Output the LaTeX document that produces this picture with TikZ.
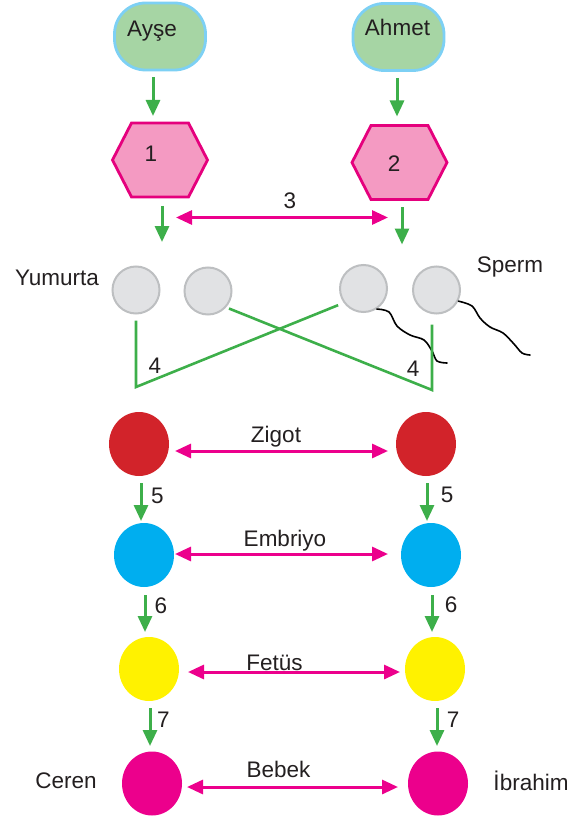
\documentclass[tikz,border=0pt]{standalone}
\usepackage{fontspec}
\setmainfont{Liberation Sans}
\usetikzlibrary{arrows.meta,calc,shapes.geometric}
\definecolor{boxgreen}{HTML}{A6D5A4}
\definecolor{boxblue}{HTML}{7DD0F4}
\definecolor{grn}{HTML}{3DAF4A}
\definecolor{mag}{HTML}{EC008C}
\definecolor{hexfill}{HTML}{F49AC2}
\definecolor{hexline}{HTML}{E5007D}
\definecolor{eggf}{HTML}{E1E2E4}
\definecolor{eggb}{HTML}{BDBFC1}
\definecolor{zred}{HTML}{D2232A}
\definecolor{zblue}{HTML}{00AEEF}
\definecolor{zyel}{HTML}{FFF200}
\definecolor{zpink}{HTML}{EC008C}
\definecolor{textc}{HTML}{231F20}
\begin{document}
\begin{tikzpicture}[x=1pt,y=-1pt,
  person/.style={draw=boxblue, fill=boxgreen, line width=2.8pt, rounded corners=31pt,
    minimum width=91pt, minimum height=67pt, inner sep=0pt},
  txt/.style={font=\fontsize{22.5}{27}\selectfont, text=textc, anchor=base, inner sep=0pt},
  hexbox/.style={rectangle, inner sep=0pt, outer sep=0pt, minimum width=95pt, minimum height=74pt},
  hexs/.style={draw=hexline, fill=hexfill, line width=2.8pt, line join=miter},
  egg/.style={circle, draw=eggb, fill=eggf, line width=2pt, minimum size=47pt, inner sep=0pt},
  cell/.style={ellipse, minimum width=60pt, minimum height=64pt, inner sep=0pt, outer sep=0pt},
  garrow/.style={draw=grn, line width=3pt, -{Triangle[length=16pt,width=14pt]}},
  marrow/.style={draw=mag, line width=3pt, {Triangle[length=16pt,width=14pt]}-{Triangle[length=16pt,width=14pt]}},
  gline/.style={draw=grn, line width=2.6pt},
  tail/.style={draw=black, line width=1.6pt, line cap=round}]
\useasboundingbox (0,0) rectangle (582,818);

% parents
\node[person] (ayse) at (160,36.5) {};
\node[person] (ahmet) at (398.5,37) {};
\node[txt] (ayseT) at (152,37) {Ayşe};
\node[txt] (ahmetT) at (397.5,36) {Ahmet};

% hexagons
\node[hexbox] (h1) at (160,160) {};
\node[hexbox] (h2) at (399.5,162.5) {};
\foreach \h in {h1,h2}{
  \draw[hexs] (\h.west) -- ([xshift=19pt]\h.north west) -- ([xshift=-19pt]\h.north east)
    -- (\h.east) -- ([xshift=-19pt]\h.south east) -- ([xshift=19pt]\h.south west) -- cycle;
}
\node[txt] (h1T) at (151,162) {1};
\node[txt] (h2T) at (394,172) {2};

\draw[garrow] ([xshift=-7pt,yshift=-6pt]ayse.south) -- ([xshift=-7pt,yshift=7pt]h1.north);
\draw[garrow] ([xshift=-1.5pt,yshift=-6pt]ahmet.south) -- ([xshift=-2.5pt,yshift=9pt]h2.north);
\draw[garrow] ([xshift=2pt,yshift=-9pt]h1.south) -- ++(0,36);
\draw[garrow] ([xshift=2.5pt,yshift=-8pt]h2.south) -- ++(0,37);

\coordinate (a3l) at (176,217.5);
\coordinate (a3r) at (388,217.5);
\draw[marrow] (a3l) -- (a3r);
\node[txt] (l3) at (290,208) {3};

% gametes
\node[egg] (e1) at (136,290) {};
\node[egg] (e2) at (208,291) {};
\node[egg] (s1) at (363.5,288.5) {};
\node[egg] (s2) at (436.5,290) {};
\node[txt] (yum) at (57,285) {Yumurta};
\node[txt] (sperm) at (510,272) {Sperm};

\draw[tail] plot[smooth, tension=0.55] coordinates {(s1.-57) (389,312) (397,326) (410,335) (424,340) (432,351) (437,361) (447,363)};
\draw[tail] plot[smooth, tension=0.55] coordinates {(s2.-27) (472,306) (480,318) (490,327) (503,333) (514,344) (522,353) (530,355)};

\coordinate (k1) at (136,387);
\coordinate (k2) at (432,390);
\draw[gline, shorten >=6pt] ([yshift=-6pt]e1.south) -- (k1) -- (s1.216);
\draw[gline, shorten <=3pt] (e2.-42) -- (k2) -- ([xshift=-4.5pt,yshift=-10pt]s2.south);
\node[txt] (l4a) at (155,373) {4};
\node[txt] (l4b) at (413,376) {4};

% development stages
\node[cell, fill=zred] (z1) at (139,444) {};
\node[cell, fill=zred] (z2) at (426,444) {};
\node[cell, fill=zblue] (b1) at (144,555) {};
\node[cell, fill=zblue] (b2) at (431,555) {};
\node[cell, fill=zyel] (y1) at (149,669) {};
\node[cell, fill=zyel] (y2) at (435,669) {};
\node[cell, fill=zpink] (p1) at (152,783.5) {};
\node[cell, fill=zpink] (p2) at (438,783.5) {};

\draw[marrow] ([xshift=6pt,yshift=-7pt]z1.east) -- ([xshift=-8pt,yshift=-7pt]z2.west);
\draw[marrow] ([xshift=1pt,yshift=1pt]b1.east) -- ([xshift=-13pt,yshift=1pt]b2.west);
\draw[marrow] ([xshift=9pt,yshift=-3pt]y1.east) -- ([xshift=-5pt,yshift=-3pt]y2.west);
\draw[marrow] ([xshift=5pt,yshift=-3.5pt]p1.east) -- ([xshift=-10pt,yshift=-3.5pt]p2.west);

\node[txt] (zig) at (276,442) {Zigot};
\node[txt] (emb) at (285,546) {Embriyo};
\node[txt] (fet) at (274.5,670) {Fetüs};
\node[txt] (beb) at (278.5,777) {Bebek};

\draw[garrow] ([xshift=2pt,yshift=-7pt]z1.south) -- ([xshift=-3pt,yshift=2pt]b1.north);
\draw[garrow] ([xshift=1pt,yshift=-7pt]z2.south) -- ([xshift=-4pt,yshift=2pt]b2.north);
\draw[garrow] ([xshift=1pt,yshift=-8pt]b1.south) -- ([xshift=-4pt,yshift=5pt]y1.north);
\draw[garrow] ([xshift=1pt,yshift=-8pt]b2.south) -- ([xshift=-3pt,yshift=5pt]y2.north);
\draw[garrow] ([xshift=1pt,yshift=-7pt]y1.south) -- ([xshift=-2pt,yshift=5.5pt]p1.north);
\draw[garrow] ([xshift=2pt,yshift=-7pt]y2.south) -- ([xshift=-1pt,yshift=5.5pt]p2.north);

\node[txt] (l5a) at (157.5,503) {5};
\node[txt] (l5b) at (447,502) {5};
\node[txt] (l6a) at (161,613) {6};
\node[txt] (l6b) at (451,612) {6};
\node[txt] (l7a) at (163.5,727) {7};
\node[txt] (l7b) at (453,727) {7};

\node[txt] (ceren) at (66,788) {Ceren};
\node[txt] (ibr) at (531,790) {İbrahim};
\end{tikzpicture}
\end{document}
